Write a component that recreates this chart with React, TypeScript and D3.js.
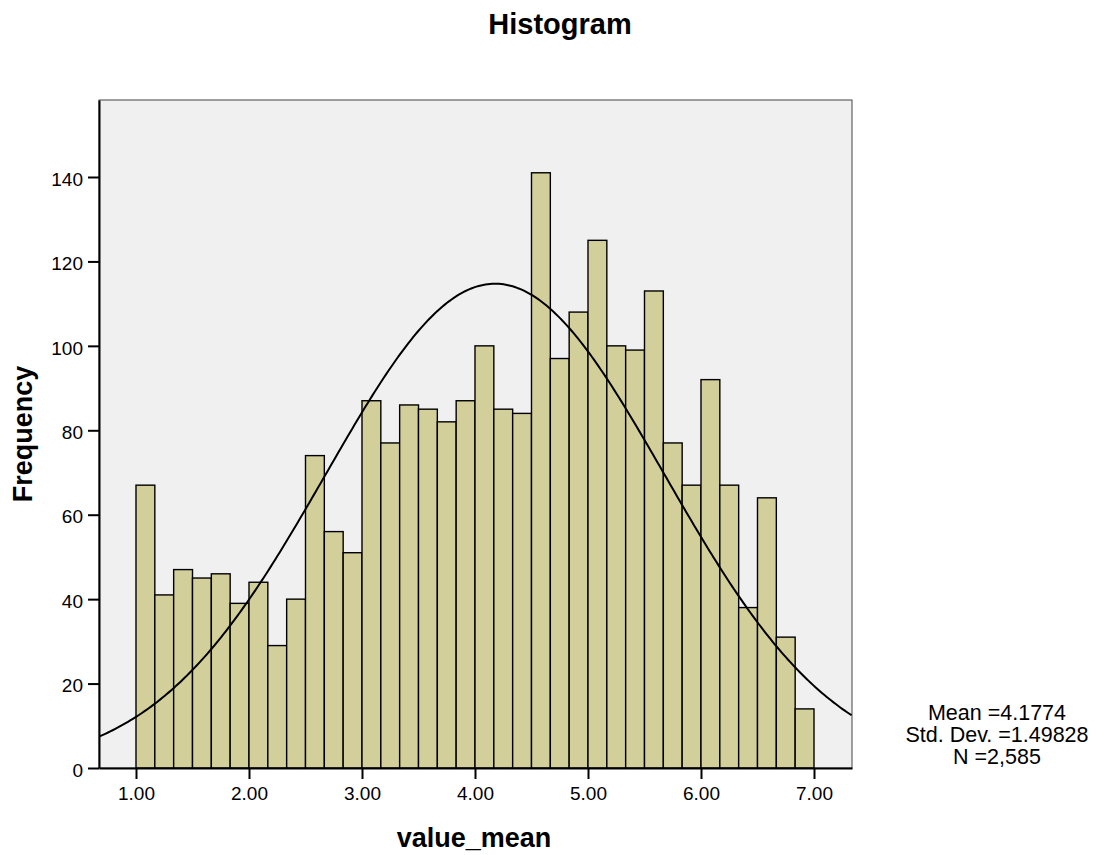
import React, { useEffect, useRef } from 'react';
import * as d3 from 'd3';

// histogram counts, 36 bins of width 1/6 from 1.00 to 7.00
const binStart = 1;
const binWidth = 1 / 6;
const counts = [
  67, 41, 47, 45, 46, 39, 44, 29, 40, 74, 56, 51, 87, 77, 86, 85, 82, 87,
  100, 85, 84, 141, 97, 108, 125, 100, 99, 113, 77, 67, 92, 67, 38, 64, 31, 14,
];
const xTicks = [1, 2, 3, 4, 5, 6, 7];
const yTicks = [0, 20, 40, 60, 80, 100, 120, 140];
const mean = 4.1774;
const stdDev = 1.49828;
const n = 2585;
const statLines = ['Mean =4.1774', 'Std. Dev. =1.49828', 'N =2,585'];

const FONT = 'Arial, "Liberation Sans", sans-serif';

const App = () => {
  const svgRef = useRef<SVGSVGElement>(null);

  useEffect(() => {
    const svg = d3.select(svgRef.current);
    svg.selectAll('*').remove();

    const left = 99, right = 852, top = 100, bottom = 768;

    const x = d3.scaleLinear().domain([0.6726, 7.3363]).range([left, right]);
    const y = d3.scaleLinear().domain([0, 158.24]).range([bottom, top]);

    svg.append('defs').append('clipPath').attr('id', 'plotclip')
      .append('rect')
      .attr('x', left).attr('y', top)
      .attr('width', right - left).attr('height', bottom - top);

    // plot background
    svg.append('rect')
      .attr('x', left).attr('y', top)
      .attr('width', right - left).attr('height', bottom - top)
      .attr('fill', '#f0f0f0')
      .attr('stroke', '#444')
      .attr('stroke-width', 1);

    // bars
    svg.append('g')
      .selectAll('rect')
      .data(counts)
      .join('rect')
      .attr('x', (d, i) => x(binStart + i * binWidth))
      .attr('y', (d) => y(d))
      .attr('width', x(binWidth) - x(0))
      .attr('height', (d) => y(0) - y(d))
      .attr('fill', '#d3cf9a')
      .attr('stroke', '#000')
      .attr('stroke-width', 1.4);

    // fitted normal curve
    const k = n * binWidth / (stdDev * Math.sqrt(2 * Math.PI));
    const xs = d3.range(0.6726, 7.34, 0.02);
    const line = d3.line<number>()
      .x((d) => x(d))
      .y((d) => y(k * Math.exp(-0.5 * ((d - mean) / stdDev) ** 2)));
    svg.append('path')
      .datum(xs)
      .attr('clip-path', 'url(#plotclip)')
      .attr('fill', 'none')
      .attr('stroke', '#000')
      .attr('stroke-width', 2)
      .attr('d', line);

    // axes
    const yAxis = svg.append('g')
      .attr('transform', `translate(${left},0)`)
      .call(d3.axisLeft(y).tickValues(yTicks).tickSizeInner(11).tickSizeOuter(0)
        .tickPadding(5).tickFormat(d3.format('d')));
    const xAxis = svg.append('g')
      .attr('transform', `translate(0,${bottom})`)
      .call(d3.axisBottom(x).tickValues(xTicks).tickSizeInner(11).tickSizeOuter(0)
        .tickPadding(8).tickFormat(d3.format('.2f')));

    [yAxis, xAxis].forEach((g) => {
      g.select('.domain').attr('stroke', '#000').attr('stroke-width', 2);
      g.selectAll('.tick line').attr('stroke', '#000').attr('stroke-width', 2);
      g.selectAll('.tick text')
        .attr('fill', '#000')
        .style('font-family', FONT)
        .style('font-size', '19px');
    });
    yAxis.selectAll('.tick text').attr('dy', '0.43em');

    // titles
    svg.append('text')
      .attr('x', 560).attr('y', 34)
      .attr('text-anchor', 'middle')
      .style('font-family', FONT).style('font-size', '29px').style('font-weight', 'bold')
      .text('Histogram');

    svg.append('text')
      .attr('x', 474).attr('y', 847)
      .attr('text-anchor', 'middle')
      .style('font-family', FONT).style('font-size', '27px').style('font-weight', 'bold')
      .text('value_mean');

    svg.append('text')
      .attr('transform', `translate(32,${(top + bottom) / 2}) rotate(-90)`)
      .attr('text-anchor', 'middle')
      .style('font-family', FONT).style('font-size', '27px').style('font-weight', 'bold')
      .text('Frequency');

    // stats box text
    svg.append('g')
      .selectAll('text')
      .data(statLines)
      .join('text')
      .attr('x', 997)
      .attr('y', (d, i) => 720 + i * 22)
      .attr('text-anchor', 'middle')
      .style('font-family', FONT).style('font-size', '21.5px')
      .text((d) => d);
  }, []);

  return (
    <svg
      ref={svgRef}
      width={1104}
      height={855}
      style={{ position: 'absolute', left: 0, top: 0, background: '#fff' }}
    />
  );
};

export default App;
